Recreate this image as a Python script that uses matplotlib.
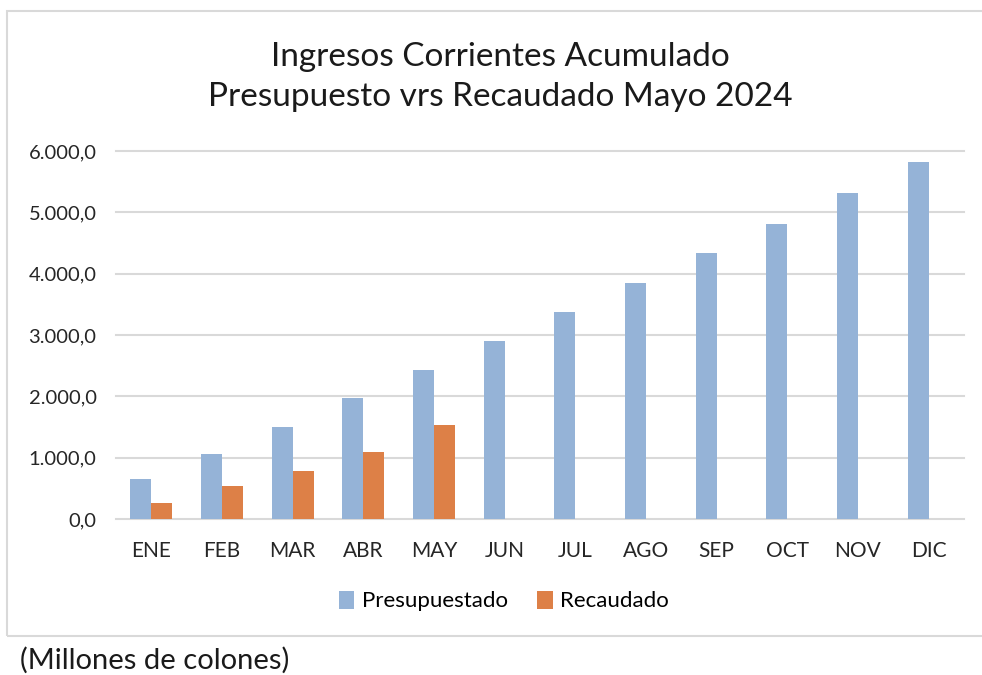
import numpy as np
import matplotlib
matplotlib.use('Agg')
import matplotlib.pyplot as plt
from matplotlib.patches import Rectangle
from matplotlib.ticker import FuncFormatter

meses = ['ENE', 'FEB', 'MAR', 'ABR', 'MAY', 'JUN', 'JUL', 'AGO', 'SEP', 'OCT', 'NOV', 'DIC']
presupuestado = [645, 1055, 1495, 1980, 2430, 2900, 3380, 3855, 4330, 4805, 5320, 5825]
recaudado = [255, 545, 775, 1090, 1530]
titulo = 'Ingresos Corrientes Acumulado\nPresupuesto vrs Recaudado Mayo 2024'
nota = '(Millones de colones)'

azul = '#95B3D7'
naranja = '#DD8047'
fuente = ['Lato', 'DejaVu Sans']

plt.rcParams['font.family'] = fuente

W, H = 982, 675
fig = plt.figure(figsize=(W / 100, H / 100), dpi=100)

# marco gris del grafico
fig.patches.append(Rectangle((7 / W, 1 - 636 / H), 1.1, (636 - 11) / H,
                             transform=fig.transFigure, fill=False,
                             edgecolor='#D9D9D9', linewidth=1.5))

ax = fig.add_axes([116 / W, 1 - 519 / H, (964 - 116) / W, (519 - 151) / H])

x = np.arange(len(meses))
w = 0.295
ax.bar(x - w / 2, presupuestado, w, color=azul, label='Presupuestado', zorder=2)
ax.bar(x[:len(recaudado)] + w / 2, recaudado, w, color=naranja, label='Recaudado', zorder=2)

ax.set_xlim(-0.5, len(meses) - 0.5)
ax.set_ylim(0, 6000)
ax.set_yticks(np.arange(0, 6001, 1000))
ax.yaxis.set_major_formatter(FuncFormatter(
    lambda v, p: '{:,.1f}'.format(v).replace(',', 'X').replace('.', ',').replace('X', '.')))
ax.set_xticks(x)
ax.set_xticklabels(meses)
ax.grid(axis='y', color='#D9D9D9', linewidth=1.5, zorder=0)
for gl in ax.get_ygridlines():
    gl.set_clip_on(False)
for s in ax.spines.values():
    s.set_visible(False)
ax.tick_params(length=0, labelsize=15, colors='#262626')
ax.tick_params(axis='x', pad=16)
ax.tick_params(axis='y', labelsize=14.5, pad=14)

fig.text(500 / W, 1 - 77 / H, titulo, ha='center', va='center', fontsize=24,
         color='#1a1a1a', linespacing=1.4)

# leyenda centrada en el area del grafico, no en el eje
fig.legend(*ax.get_legend_handles_labels(), loc='center',
           bbox_to_anchor=(504 / W, 1 - 601 / H),
           ncol=2, frameon=False, fontsize=16, handlelength=0.7, handleheight=0.9,
           handletextpad=0.35, columnspacing=1.3)

fig.text(20 / W, 1 - 660 / H, nota, ha='left', va='center', fontsize=21, color='#1a1a1a')

fig.savefig('out.png', dpi=100)
